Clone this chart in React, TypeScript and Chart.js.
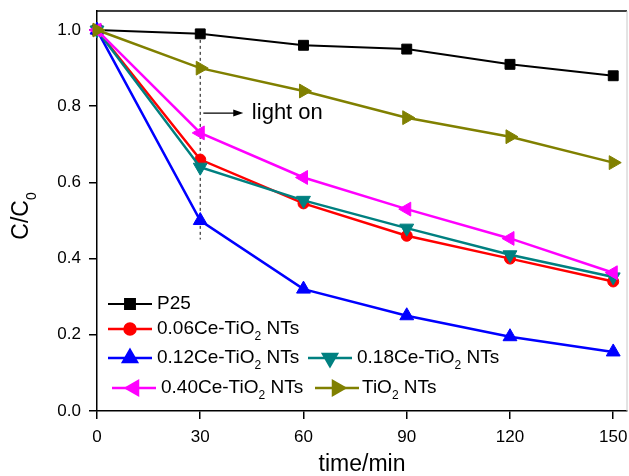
import React, { useEffect, useRef } from 'react';
import { Chart, registerables } from 'chart.js';
import { drawPoint } from 'chart.js/helpers';

Chart.register(...registerables);

// ---------- data ----------
const times = [0, 30, 60, 90, 120, 150];
const seriesNames = ['P25', '0.06Ce-TiO₂ NTs', '0.12Ce-TiO₂ NTs', '0.18Ce-TiO₂ NTs', '0.40Ce-TiO₂ NTs', 'TiO₂ NTs'];
const p25 = [1.0, 0.99, 0.96, 0.95, 0.91, 0.88];
const ce006 = [1.0, 0.66, 0.545, 0.46, 0.40, 0.34];
const ce012 = [1.0, 0.50, 0.32, 0.25, 0.195, 0.155];
const ce018 = [1.0, 0.64, 0.553, 0.48, 0.41, 0.352];
const ce040 = [1.0, 0.73, 0.613, 0.53, 0.453, 0.363];
const tio2 = [1.0, 0.90, 0.84, 0.77, 0.72, 0.652];
const xTicks = [0, 30, 60, 90, 120, 150];
const yTicks = [0, 0.2, 0.4, 0.6, 0.8, 1.0];
const xTitle = 'time/min';
const yTitle = 'C/C₀';
const annotationText = 'light on';
const lightOnTime = 30;

// ---------- styles ----------
const FONT = '"Liberation Sans", Arial, sans-serif';
const colors = ['#000000', '#ff0000', '#0000ff', '#008080', '#ff00ff', '#808000'];
const pointStyles = ['rect', 'circle', 'triangle', 'triangle', 'triangle', 'triangle'];
const rotations = [0, 0, 0, 180, -90, 90];
const radii = [7, 5.5, 8, 8, 8, 8];
const lineWidths = [2, 2.5, 2.5, 2.5, 2.5, 2.5];
// legend layout (pixel positions for each entry: line start x, center y, text x)
const legendLayout = [
  { x: 108, y: 304, tx: 157 },
  { x: 108, y: 329, tx: 157 },
  { x: 108, y: 358, tx: 157 },
  { x: 308, y: 358, tx: 357 },
  { x: 112, y: 388, tx: 161 },
  { x: 315, y: 388, tx: 362 },
];

const allSeries = [p25, ce006, ce012, ce018, ce040, tio2];

function drawSubText(ctx: CanvasRenderingContext2D, text: string, x: number, y: number, size: number, align: 'left' | 'center') {
  const subMap: Record<string, string> = { '₀': '0', '₂': '2' };
  const parts: { t: string; sub: boolean }[] = [];
  let buf = '';
  for (const ch of text) {
    if (subMap[ch]) {
      if (buf) parts.push({ t: buf, sub: false });
      buf = '';
      parts.push({ t: subMap[ch], sub: true });
    } else buf += ch;
  }
  if (buf) parts.push({ t: buf, sub: false });
  const subSize = Math.round(size * 0.62);
  let total = 0;
  for (const p of parts) {
    ctx.font = `${p.sub ? subSize : size}px ${FONT}`;
    total += ctx.measureText(p.t).width;
  }
  let cx = align === 'center' ? x - total / 2 : x;
  ctx.textBaseline = 'middle';
  ctx.textAlign = 'left';
  for (const p of parts) {
    ctx.font = `${p.sub ? subSize : size}px ${FONT}`;
    ctx.fillText(p.t, cx, p.sub ? y + size * 0.42 : y);
    cx += ctx.measureText(p.t).width;
  }
}

const decorPlugin = {
  id: 'decor',
  beforeDatasetsDraw(chart: any) {
    const { ctx, scales } = chart;
    const x = scales.x.getPixelForValue(lightOnTime);
    ctx.save();
    ctx.strokeStyle = '#333';
    ctx.lineWidth = 1.2;
    ctx.setLineDash([3, 3]);
    ctx.beginPath();
    ctx.moveTo(x, scales.y.getPixelForValue(0.99));
    ctx.lineTo(x, scales.y.getPixelForValue(0.45));
    ctx.stroke();
    ctx.restore();
  },
  afterDraw(chart: any) {
    const { ctx, scales, chartArea } = chart;
    ctx.save();
    // box top / right
    ctx.strokeStyle = '#000';
    ctx.lineWidth = 1.5;
    ctx.beginPath();
    ctx.moveTo(chartArea.left, chartArea.top);
    ctx.lineTo(chartArea.right, chartArea.top);
    ctx.stroke();
    ctx.strokeStyle = '#c8c8c8';
    ctx.lineWidth = 1;
    ctx.beginPath();
    ctx.moveTo(chartArea.right, chartArea.top);
    ctx.lineTo(chartArea.right, chartArea.bottom);
    ctx.stroke();

    // arrow + annotation
    const ay = scales.y.getPixelForValue(0.782);
    const ax0 = scales.x.getPixelForValue(30.9);
    const ax1 = scales.x.getPixelForValue(42.5);
    ctx.strokeStyle = '#000';
    ctx.fillStyle = '#000';
    ctx.lineWidth = 1.2;
    ctx.beginPath();
    ctx.moveTo(ax0, ay);
    ctx.lineTo(ax1 - 6, ay);
    ctx.stroke();
    ctx.beginPath();
    ctx.moveTo(ax1, ay);
    ctx.lineTo(ax1 - 10, ay - 3.5);
    ctx.lineTo(ax1 - 10, ay + 3.5);
    ctx.closePath();
    ctx.fill();
    ctx.font = `22px ${FONT}`;
    ctx.textBaseline = 'middle';
    ctx.textAlign = 'left';
    ctx.fillText(annotationText, scales.x.getPixelForValue(45), ay);

    // legend
    legendLayout.forEach((pos, i) => {
      ctx.strokeStyle = colors[i];
      ctx.fillStyle = colors[i];
      ctx.lineWidth = lineWidths[i];
      ctx.beginPath();
      ctx.moveTo(pos.x, pos.y);
      ctx.lineTo(pos.x + 44, pos.y);
      ctx.stroke();
      drawPoint(ctx, { pointStyle: pointStyles[i], rotation: rotations[i], radius: radii[i], borderWidth: 1 } as any, pos.x + 22, pos.y);
      ctx.fillStyle = '#000';
      drawSubText(ctx, seriesNames[i], pos.tx, pos.y, 19, 'left');
    });

    // axis titles
    ctx.fillStyle = '#000';
    drawSubText(ctx, xTitle, (chartArea.left + chartArea.right) / 2, 465, 23, 'center');
    ctx.translate(22, 216);
    ctx.rotate(-Math.PI / 2);
    drawSubText(ctx, yTitle, 0, 0, 23, 'center');
    ctx.restore();
  },
};

export default function App() {
  const ref = useRef<HTMLCanvasElement>(null);
  useEffect(() => {
    if (!ref.current) return;
    const chart = new Chart(ref.current, {
      type: 'line',
      data: {
        datasets: allSeries.map((s, i) => ({
          label: seriesNames[i],
          data: s.map((v, j) => ({ x: times[j], y: v })),
          borderColor: colors[i],
          backgroundColor: colors[i],
          pointBackgroundColor: colors[i],
          pointBorderColor: colors[i],
          pointBorderWidth: 1,
          borderWidth: lineWidths[i],
          pointStyle: pointStyles[i] as any,
          rotation: rotations[i],
          pointRadius: radii[i],
          tension: 0,
          clip: false as any,
          order: 5 - i,
        })),
      },
      options: {
        animation: false,
        responsive: false,
        layout: { autoPadding: false, padding: { top: 11, right: 2, left: 0, bottom: 0 } },
        plugins: { legend: { display: false }, tooltip: { enabled: false } },
        scales: {
          x: {
            type: 'linear',
            min: 0,
            max: 154,
            afterBuildTicks: (s: any) => {
              s.ticks = xTicks.map((v) => ({ value: v }));
            },
            afterFit: (s: any) => {
              s.height = 65;
              s.paddingLeft = 0;
              s.paddingRight = 0;
              s.paddingTop = 0;
              s.paddingBottom = 0;
            },
            ticks: { font: { family: FONT, size: 17 }, color: '#000', padding: 8, maxRotation: 0, autoSkip: false },
            grid: { display: true, drawOnChartArea: false, drawTicks: true, tickLength: 8, color: '#000', lineWidth: 1.5 },
            border: { display: true, color: '#000', width: 1.5 },
          },
          y: {
            type: 'linear',
            min: 0,
            max: 1.05,
            afterBuildTicks: (s: any) => {
              s.ticks = yTicks.map((v) => ({ value: v }));
            },
            afterFit: (s: any) => {
              s.width = 97;
              s.paddingLeft = 0;
              s.paddingRight = 0;
              s.paddingTop = 0;
              s.paddingBottom = 0;
            },
            ticks: { font: { family: FONT, size: 17 }, color: '#000', padding: 8, callback: (v: any) => Number(v).toFixed(1) },
            grid: { display: true, drawOnChartArea: false, drawTicks: true, tickLength: 8, color: '#000', lineWidth: 1.5 },
            border: { display: true, color: '#000', width: 1.5 },
          },
        },
      },
      plugins: [decorPlugin],
    });
    return () => chart.destroy();
  }, []);
  return (
    <div style={{ position: 'fixed', left: 0, top: 0, width: 629, height: 476, background: '#fff' }}>
      <canvas ref={ref} width={629} height={476} style={{ display: 'block' }} />
    </div>
  );
}
